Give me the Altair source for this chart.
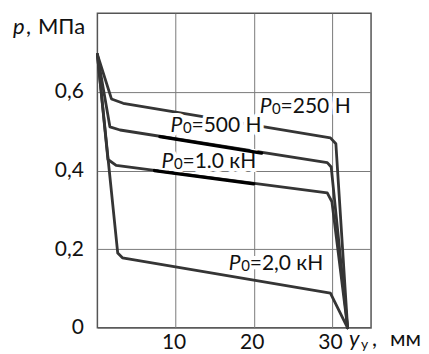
import altair as alt
import pandas as pd

FONT = "Lato, Open Sans, sans-serif"

# ---- curve data (x = y_y in mm, p in MPa) ----
x_250 = [0, 1.8, 3.3, 29.8, 30.5, 32.0]
p_250 = [0.695, 0.582, 0.571, 0.483, 0.468, 0.0]
x_500 = [0, 1.6, 2.9, 29.4, 29.9, 32.0]
p_500 = [0.695, 0.511, 0.503, 0.420, 0.409, 0.0]
x_1k = [0, 1.35, 2.4, 29.4, 30.0, 32.0]
p_1k = [0.695, 0.428, 0.413, 0.343, 0.32, 0.0]
x_2k = [0, 2.6, 3.2, 29.8, 32.0]
p_2k = [0.695, 0.19, 0.178, 0.088, 0.0]

# thick retouched segments
seg_500_x = [8.0, 21.0]
seg_500_p = [0.486, 0.444]
seg_1k_x = [7.3, 20.0]
seg_1k_p = [0.400, 0.366]

# curve labels
label_rest = ["=250 Н", "=500 Н", "=1.0 кН", "=2,0 кН"]
label_x = [20.75, 9.35, 8.2, 16.8]
label_p = [0.546, 0.499, 0.406, 0.147]

x_ticks = [10, 20, 30]
y_ticks = [0, 0.2, 0.4, 0.6]


def mk(name, xs, ps):
    return pd.DataFrame({"series": name, "i": list(range(len(xs))), "x": xs, "p": ps})


curves = pd.concat([
    mk("250", x_250, p_250),
    mk("500", x_500, p_500),
    mk("1k", x_1k, p_1k),
    mk("2k", x_2k, p_2k),
])
segs = pd.concat([mk("s500", seg_500_x, seg_500_p), mk("s1k", seg_1k_x, seg_1k_p)])
labels = pd.DataFrame({"x": label_x, "p": label_p, "rest": label_rest})
one = pd.DataFrame({"k": [0]})

xs = alt.Scale(domain=[0, 35], nice=False, zero=False)
ys = alt.Scale(domain=[0, 0.8], nice=False)

xaxis = alt.Axis(values=x_ticks, grid=True, ticks=False, domain=False, title=None,
                 labelFont=FONT, labelFontSize=21, labelColor="#111",
                 labelBaseline="alphabetic", labelPadding=21, labelFlush=False,
                 labelOverlap=False, labelOffset=-2,
                 gridColor="#7a7a7a", gridWidth=1)
yaxis = alt.Axis(values=y_ticks, grid=True, ticks=False, domain=False, title=None,
                 labelFont=FONT, labelFontSize=21, labelColor="#111", labelPadding=14,
                 labelFlush=False, labelOverlap=False,
                 labelExpr="datum.value == 0 ? '0' : replace(format(datum.value, '.1f'), '.', ',')",
                 gridColor="#7a7a7a", gridWidth=1)

lines = alt.Chart(curves).mark_line(color="#353535", strokeWidth=2.8, strokeJoin="round",
                                    strokeCap="round").encode(
    x=alt.X("x:Q", scale=xs, axis=xaxis),
    y=alt.Y("p:Q", scale=ys, axis=yaxis),
    detail="series:N",
    order="i:Q",
)

overlay = alt.Chart(segs).mark_line(color="#000000", strokeWidth=3.3, strokeCap="round").encode(
    x=alt.X("x:Q", scale=xs), y=alt.Y("p:Q", scale=ys), detail="series:N", order="i:Q")

lbase = alt.Chart(labels).encode(x=alt.X("x:Q", scale=xs), y=alt.Y("p:Q", scale=ys))

halo_kw = dict(font=FONT, align="left", baseline="alphabetic", color="white",
               stroke="white", strokeWidth=8, strokeJoin="round")
txt_kw = dict(font=FONT, align="left", baseline="alphabetic", color="#111")

halo_P = lbase.mark_text(text="P", fontSize=21, fontStyle="italic", **halo_kw)
halo_0 = lbase.mark_text(text="0", fontSize=15, dx=12.5, dy=1, **halo_kw)
halo_r = lbase.mark_text(fontSize=21, dx=21, **halo_kw).encode(text="rest:N")

t_P = lbase.mark_text(text="P", fontSize=21, fontStyle="italic", **txt_kw)
t_0 = lbase.mark_text(text="0", fontSize=15, dx=12.5, dy=1, **txt_kw)
t_r = lbase.mark_text(fontSize=21, dx=21, **txt_kw).encode(text="rest:N")

# axis titles
tb = alt.Chart(one)
it_kw = dict(font=FONT, fontSize=22, fontStyle="italic", align="left",
             baseline="alphabetic", color="#111")
nt_kw = dict(font=FONT, fontSize=22, align="left", baseline="alphabetic", color="#111")
yt_p = tb.mark_text(**it_kw).encode(x=alt.value(-84.5), y=alt.value(21), text=alt.value("p"))
yt_c = tb.mark_text(**nt_kw).encode(x=alt.value(-71.5), y=alt.value(21), text=alt.value(","))
yt_r = tb.mark_text(**nt_kw).encode(x=alt.value(-59.5), y=alt.value(21), text=alt.value("МПа"))
xt_y = tb.mark_text(**it_kw).encode(x=alt.value(252), y=alt.value(333), text=alt.value("y"))
xt_s = tb.mark_text(font=FONT, fontSize=14, align="left", baseline="alphabetic",
                    color="#111").encode(x=alt.value(264), y=alt.value(336), text=alt.value("у"))
xt_c = tb.mark_text(**nt_kw).encode(x=alt.value(275), y=alt.value(333), text=alt.value(","))
xt_r = tb.mark_text(**nt_kw).encode(x=alt.value(293), y=alt.value(333), text=alt.value("мм"))

chart = alt.layer(
    lines, halo_P, halo_0, halo_r, overlay, t_P, t_0, t_r,
    yt_p, yt_c, yt_r, xt_y, xt_s, xt_c, xt_r,
).properties(
    width=274, height=315,
    autosize=alt.AutoSizeParams(type="none"),
    padding={"left": 89.5, "top": 5, "right": 50, "bottom": 26},
).configure_view(stroke="#555555", strokeWidth=1.5)

chart.save("out.html", embed_options={"renderer": "svg", "actions": False})
